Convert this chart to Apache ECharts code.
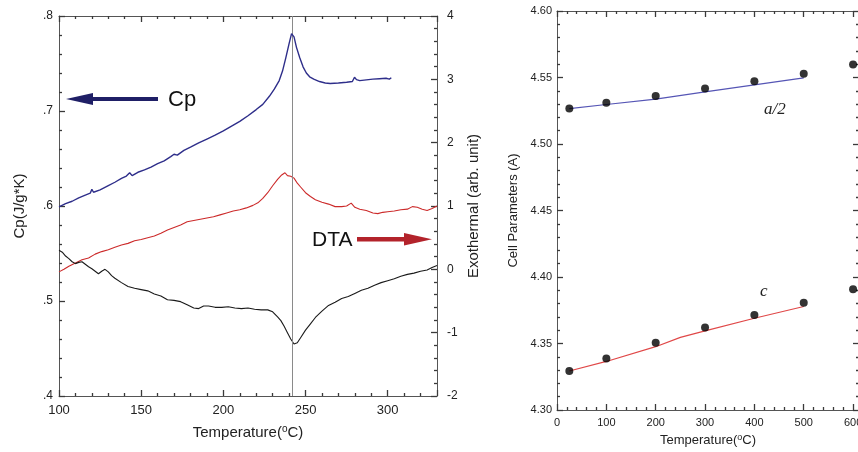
<!DOCTYPE html>
<html><head><meta charset="utf-8">
<script src="https://cdn.jsdelivr.net/npm/echarts@6/dist/echarts.min.js"></script>
<style>html,body{margin:0;padding:0;background:#fff}#c{width:858px;height:452px}</style>
</head><body><div id="c"></div>
<script>
// ---- Left panel: Cp and DTA vs temperature ----
const cpTemp = [100,104,108,112,116,119,120,121,125,130,134,138,141,143,144.5,148,152,156,160,164,168,170,172,176,180,185,190,195,200,205,210,215,220,224,228,231,234,236,238,240,241.5,243,244.5,246.5,248.5,250.5,252.5,255,258.5,262,265,270,275,278.5,279.8,281,283,287,291,295,299,301,302.2];
const cpVal  = [0.599,0.6025,0.605,0.6085,0.6115,0.6135,0.6175,0.6145,0.617,0.6215,0.625,0.629,0.6315,0.635,0.632,0.6355,0.638,0.641,0.6445,0.6475,0.652,0.6545,0.6535,0.6585,0.662,0.6665,0.6705,0.6745,0.679,0.684,0.689,0.695,0.7015,0.707,0.7155,0.723,0.732,0.742,0.756,0.771,0.7815,0.778,0.767,0.756,0.7465,0.740,0.736,0.7335,0.731,0.7295,0.729,0.7295,0.7302,0.731,0.7355,0.733,0.732,0.7328,0.7335,0.734,0.7345,0.7335,0.735];

const dtaTemp = [100,103,106,110,114,118,122,126,130,134,138,142,146,150,154,158,162,166,170,174,178,182,186,190,194,198,202,206,210,214,218,221,224,227,230,233,235.5,237.5,239,241,243,245,247,250,253,256,260,264,268,272,275,277.8,280,283,287,291,294,297,300,304,308,312,315,318,321,324,327,330];
const dtaVal  = [-0.04,0.0,0.05,0.10,0.15,0.18,0.24,0.28,0.31,0.35,0.385,0.41,0.45,0.47,0.50,0.525,0.57,0.62,0.66,0.70,0.75,0.77,0.79,0.81,0.83,0.86,0.89,0.92,0.94,0.97,1.01,1.05,1.12,1.21,1.32,1.42,1.49,1.525,1.48,1.47,1.44,1.36,1.30,1.21,1.15,1.10,1.06,1.03,0.99,0.99,1.0,1.045,0.98,0.95,0.93,0.89,0.88,0.90,0.91,0.92,0.94,0.95,0.99,0.98,0.95,0.93,0.96,1.0];

const blkTemp = [100,102,104,106,108,110,112,114,116,118,120,122,124,126,128,130,132,134,138,142,146,150,154,158,162,166,170,174,178,182,185,188,191,195,199,203,207,211,215,219,223,227,230,233,235,237,239,241,243,245,247,250,253,256,260,264,268,272,276,280,284,288,292,296,300,304,308,312,316,320,324,327,330];
const blkVal  = [0.30,0.27,0.21,0.17,0.12,0.09,0.11,0.12,0.08,0.04,0.01,-0.03,-0.07,-0.03,0.0,-0.04,-0.10,-0.14,-0.21,-0.27,-0.30,-0.32,-0.34,-0.39,-0.42,-0.48,-0.49,-0.51,-0.56,-0.61,-0.62,-0.58,-0.58,-0.60,-0.60,-0.59,-0.61,-0.62,-0.61,-0.63,-0.64,-0.64,-0.67,-0.75,-0.81,-0.90,-1.00,-1.10,-1.18,-1.16,-1.08,-0.96,-0.86,-0.76,-0.66,-0.57,-0.52,-0.46,-0.43,-0.38,-0.33,-0.30,-0.25,-0.21,-0.18,-0.15,-0.11,-0.08,-0.06,-0.03,-0.01,0.03,0.06];

const transitionTemp = 241.8;

// ---- Right panel: cell parameters ----
const cellTemp = [25,100,200,300,400,500,600];
const aHalf    = [4.5266,4.5311,4.5361,4.5417,4.5472,4.5529,4.5597];
const cPar     = [4.3293,4.3388,4.3506,4.3621,4.3714,4.3807,4.3907];
const aFitTemp = [25,100,200,300,400,500];
const aFitVal  = [4.5266,4.5297,4.5338,4.5392,4.5445,4.5497];
const cFitTemp = [25,100,200,250,300,400,500];
const cFitVal  = [4.3293,4.3365,4.3476,4.3546,4.3595,4.3690,4.3778];

const zip = (xs, ys) => xs.map((x, i) => [x, ys[i]]);
const FONT = 'Liberation Sans, Arial, sans-serif';
const AX = '#3a3a3a';

function axis(o) {
  const base = {
    type: 'value',
    axisLine: {show: true, onZero: false, lineStyle: {color: '#555', width: 1}},
    axisTick: {show: true, inside: true, length: 6, lineStyle: {color: AX, width: 1.3}},
    minorTick: {show: true, splitNumber: 5, length: 3, lineStyle: {color: AX, width: 1.3}},
    splitLine: {show: false},
    axisLabel: {show: true, color: '#222', fontFamily: FONT, fontSize: 12},
    nameTextStyle: {color: '#222', fontFamily: FONT}
  };
  return Object.assign(base, o);
}
const chart = echarts.init(document.getElementById('c'));
chart.setOption({
  animation: false,
  backgroundColor: '#fff',
  grid: [
    {left: 59, top: 16, width: 378, height: 380, outerBoundsMode: 'none', containLabel: false},
    {left: 557, top: 11, width: 302, height: 399, outerBoundsMode: 'none', containLabel: false}
  ],
  xAxis: [
    axis({gridIndex: 0, position: 'bottom', min: 100, max: 330, interval: 50,
      axisLabel: {color: '#222', fontFamily: FONT, fontSize: 13, margin: 8, showMaxLabel: false},
      name: 'Temperature({s|o}C)', nameLocation: 'middle', nameGap: 28,
      nameTextStyle: {color: '#222', fontFamily: FONT, fontSize: 15, rich: {s: {fontSize: 10, verticalAlign: 'top', padding: [0,0,8,0], fontFamily: FONT, color: '#222'}}}}),
    axis({gridIndex: 0, position: 'top', min: 100, max: 330, interval: 50, axisLabel: {show: false}}),
    axis({gridIndex: 1, position: 'bottom', min: 0, max: 612, interval: 100,
      axisLabel: {color: '#222', fontFamily: FONT, fontSize: 11, margin: 7, showMaxLabel: false},
      name: 'Temperature({s|o}C)', nameLocation: 'middle', nameGap: 22,
      nameTextStyle: {color: '#222', fontFamily: FONT, fontSize: 13, rich: {s: {fontSize: 9, verticalAlign: 'top', padding: [0,0,7,0], fontFamily: FONT, color: '#222'}}}}),
    axis({gridIndex: 1, position: 'top', min: 0, max: 612, interval: 100, axisLabel: {show: false}})
  ],
  yAxis: [
    axis({gridIndex: 0, position: 'left', min: 0.4, max: 0.8, interval: 0.1,
      axisLabel: {color: '#222', fontFamily: FONT, fontSize: 12, margin: 6,
        formatter: (v) => v.toFixed(1).replace(/^0/, '')},
      name: 'Cp(J/g*K)', nameLocation: 'middle', nameGap: 32,
      nameTextStyle: {color: '#222', fontFamily: FONT, fontSize: 15}}),
    axis({gridIndex: 0, position: 'right', min: -2, max: 4, interval: 1,
      axisLabel: {color: '#222', fontFamily: FONT, fontSize: 12, margin: 10},
      name: 'Exothermal (arb. unit)', nameLocation: 'middle', nameGap: 29,
      nameTextStyle: {color: '#222', fontFamily: FONT, fontSize: 15}}),
    axis({gridIndex: 1, position: 'left', min: 4.30, max: 4.60, interval: 0.05,
      axisLabel: {color: '#222', fontFamily: FONT, fontSize: 11, margin: 5,
        formatter: (v) => v.toFixed(2)},
      name: 'Cell Parameters (A)', nameLocation: 'middle', nameGap: 37,
      nameTextStyle: {color: '#222', fontFamily: FONT, fontSize: 13}}),
    axis({gridIndex: 1, position: 'right', min: 4.30, max: 4.60, interval: 0.05, axisLabel: {show: false}})
  ],
  series: [
    {type: 'line', name: 'Cp', xAxisIndex: 0, yAxisIndex: 0, data: zip(cpTemp, cpVal),
      showSymbol: false, lineStyle: {color: '#2e2e8a', width: 1.4}, z: 5,
      markLine: {silent: true, symbol: 'none', label: {show: false},
        lineStyle: {color: '#8a8a8a', width: 1, type: 'solid'},
        data: [{xAxis: transitionTemp}]}},
    {type: 'line', name: 'DTA', xAxisIndex: 0, yAxisIndex: 1, data: zip(dtaTemp, dtaVal),
      showSymbol: false, lineStyle: {color: '#cc2a2a', width: 1.1}},
    {type: 'line', name: 'DTA2', xAxisIndex: 0, yAxisIndex: 1, data: zip(blkTemp, blkVal),
      showSymbol: false, lineStyle: {color: '#1a1a1a', width: 1.1}},
    {type: 'line', name: 'a/2 fit', xAxisIndex: 2, yAxisIndex: 2, data: zip(aFitTemp, aFitVal),
      showSymbol: false, lineStyle: {color: '#5555b5', width: 1.2}},
    {type: 'line', name: 'c fit', xAxisIndex: 2, yAxisIndex: 2, data: zip(cFitTemp, cFitVal),
      showSymbol: false, lineStyle: {color: '#e04848', width: 1.2}},
    {type: 'scatter', name: 'a/2', xAxisIndex: 2, yAxisIndex: 2, data: zip(cellTemp, aHalf),
      symbolSize: 8, itemStyle: {color: '#000'}, z: 6},
    {type: 'scatter', name: 'c', xAxisIndex: 2, yAxisIndex: 2, data: zip(cellTemp, cPar),
      symbolSize: 8, itemStyle: {color: '#000'}, z: 6}
  ],
  graphic: [
    {type: 'rect', shape: {x: 90, y: 97, width: 68, height: 4}, style: {fill: '#1f1f66'}},
    {type: 'polygon', shape: {points: [[66, 99], [93, 93], [93, 105]]}, style: {fill: '#1f1f66'}},
    {type: 'text', x: 168, y: 100, style: {text: 'Cp', fontFamily: FONT, fontSize: 22, fill: '#111', verticalAlign: 'middle'}},
    {type: 'text', x: 312, y: 240, style: {text: 'DTA', fontFamily: FONT, fontSize: 21, fill: '#111', verticalAlign: 'middle'}},
    {type: 'rect', shape: {x: 357, y: 237, width: 50, height: 4.5}, style: {fill: '#b3232b'}},
    {type: 'polygon', shape: {points: [[432, 239.2], [404, 233], [404, 245.5]]}, style: {fill: '#b3232b'}},
    {type: 'text', x: 764, y: 110, style: {text: 'a/2', fontFamily: 'Liberation Serif, Times New Roman, serif', fontStyle: 'italic', fontSize: 17, fill: '#222', verticalAlign: 'middle'}},
    {type: 'text', x: 760, y: 292, style: {text: 'c', fontFamily: 'Liberation Serif, Times New Roman, serif', fontStyle: 'italic', fontSize: 17, fill: '#222', verticalAlign: 'middle'}}
  ]
});
</script></body></html>
